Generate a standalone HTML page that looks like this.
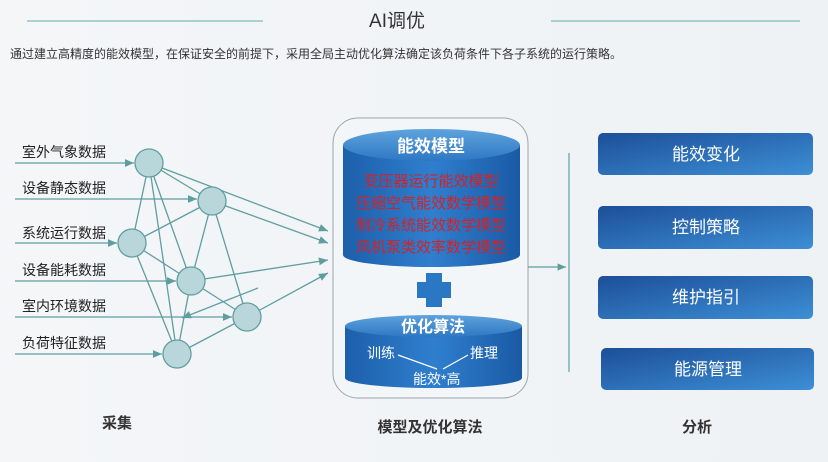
<!DOCTYPE html>
<html><head><meta charset="utf-8"><style>
body{margin:0;width:828px;height:457px;overflow:hidden;background:linear-gradient(90deg,#f4f6f8,#eef2f5);font-family:"Liberation Sans","Noto Sans CJK SC",sans-serif;}
</style></head><body>
<svg width="828" height="457" viewBox="0 0 828 457" xmlns="http://www.w3.org/2000/svg" font-family="Liberation Sans, Noto Sans CJK SC, sans-serif">
<defs>
<marker id="ar" markerWidth="8" markerHeight="8" refX="7" refY="3" orient="auto"><path d="M0,0 L7,3 L0,6z" fill="#5f9ea0"/></marker>
<linearGradient id="cyl" x1="0" x2="1"><stop offset="0" stop-color="#1d5faa"/><stop offset="0.5" stop-color="#2f7fce"/><stop offset="1" stop-color="#1a5aa5"/></linearGradient>
<linearGradient id="top" x1="0" y1="0" x2="0" y2="1"><stop offset="0" stop-color="#5ea3dc"/><stop offset="1" stop-color="#2e78c4"/></linearGradient>
<linearGradient id="box" x1="0" y1="0" x2="1" y2="1"><stop offset="0" stop-color="#1c4f98"/><stop offset="1" stop-color="#3d8fd6"/></linearGradient>
</defs>
<line x1="27" y1="21" x2="263" y2="21" stroke="#7fbcbc" stroke-width="1.2"/>
<line x1="551" y1="21" x2="800" y2="21" stroke="#7fbcbc" stroke-width="1.2"/>
<text x="397" y="27" font-size="19" text-anchor="middle" fill="#333">AI调优</text>
<text x="10" y="58" font-size="12" fill="#333">通过建立高精度的能效模型，在保证安全的前提下，采用全局主动优化算法确定该负荷条件下各子系统的运行策略。</text>
<g font-size="14" fill="#222">
<text x="22" y="157">室外气象数据</text><text x="22" y="193">设备静态数据</text><text x="22" y="238">系统运行数据</text>
<text x="22" y="275">设备能耗数据</text><text x="22" y="311">室内环境数据</text><text x="22" y="348">负荷特征数据</text>
</g>
<g stroke="#5f9ea0" stroke-width="1.3" fill="none">
<line x1="15" y1="163" x2="134" y2="163" marker-end="url(#ar)"/>
<line x1="15" y1="199" x2="197" y2="199" marker-end="url(#ar)"/>
<line x1="15" y1="243" x2="117" y2="243" marker-end="url(#ar)"/>
<line x1="15" y1="281" x2="176" y2="281" marker-end="url(#ar)"/>
<line x1="15" y1="317" x2="232" y2="317" marker-end="url(#ar)"/>
<line x1="15" y1="354" x2="162" y2="354" marker-end="url(#ar)"/>
<line x1="149" y1="163" x2="328" y2="231" marker-end="url(#ar)"/>
<line x1="212" y1="201" x2="328" y2="243" marker-end="url(#ar)"/>
<line x1="191" y1="281" x2="328" y2="260" marker-end="url(#ar)"/>
<line x1="247" y1="317" x2="328" y2="273" marker-end="url(#ar)"/>
<line x1="149" y1="163" x2="132" y2="243"/><line x1="149" y1="163" x2="191" y2="281"/><line x1="149" y1="163" x2="177" y2="354"/>
<line x1="149" y1="163" x2="212" y2="201"/>
<line x1="212" y1="201" x2="132" y2="243"/><line x1="212" y1="201" x2="191" y2="281"/><line x1="212" y1="201" x2="247" y2="317"/>
<line x1="132" y1="243" x2="191" y2="281"/><line x1="132" y1="243" x2="177" y2="354"/>
<line x1="191" y1="281" x2="247" y2="317"/><line x1="191" y1="281" x2="177" y2="354"/><line x1="247" y1="317" x2="177" y2="354"/>
<line x1="258" y1="288" x2="182" y2="318" marker-end="url(#ar)"/>
</g>
<g fill="#b9d7da" stroke="#5f9ea0" stroke-width="1.3">
<circle cx="149" cy="163" r="14"/><circle cx="212" cy="201" r="14"/><circle cx="132" cy="243" r="14"/>
<circle cx="191" cy="281" r="14"/><circle cx="247" cy="317" r="14"/><circle cx="177" cy="354" r="14"/>
</g>
<rect x="333" y="118" width="195" height="280" rx="25" fill="#f3f6f9" stroke="#9aa6ae" stroke-width="1"/>
<path d="M343,145 L343,255 A88,12 0 0 0 520,255 L520,145z" fill="url(#cyl)"/>
<ellipse cx="431.5" cy="145" rx="88.5" ry="16" fill="url(#top)"/>
<text x="431" y="152" font-size="17" font-weight="bold" fill="#fff" text-anchor="middle">能效模型</text>
<g font-size="15" fill="#d2232a" text-anchor="middle">
<text x="431" y="186">变压器运行能效模型</text><text x="431" y="208">压缩空气能效数学模型</text>
<text x="431" y="230">制冷系统能效数学模型</text><text x="431" y="252">风机泵类效率数学模型</text>
</g>
<path d="M426,273h16v9h9v16h-9v9h-16v-9h-9v-16h9z" fill="#2a77c3"/>
<path d="M345,326 L345,378 A88,10 0 0 0 522,378 L522,326z" fill="url(#cyl)"/>
<ellipse cx="433.5" cy="326" rx="88.5" ry="11" fill="url(#top)"/>
<text x="433" y="332" font-size="16" font-weight="bold" fill="#fff" text-anchor="middle">优化算法</text>
<g font-size="14" fill="#fff"><text x="367" y="358">训练</text><text x="470" y="358">推理</text><text x="413" y="384">能效*高</text></g>
<g stroke="#fff" stroke-width="1.2"><line x1="398" y1="355" x2="437" y2="369"/><line x1="468" y1="355" x2="443" y2="369"/></g>
<line x1="528" y1="267" x2="566" y2="267" stroke="#5f9ea0" stroke-width="1.2" marker-end="url(#ar)"/>
<line x1="569" y1="153" x2="569" y2="372" stroke="#5f9ea0" stroke-width="1.2"/>
<g><rect x="598" y="133" width="215" height="42" rx="5" fill="url(#box)"/><rect x="598" y="206" width="215" height="43" rx="5" fill="url(#box)"/>
<rect x="598" y="276" width="215" height="43" rx="5" fill="url(#box)"/><rect x="601" y="348" width="213" height="42" rx="5" fill="url(#box)"/></g>
<g font-size="17" fill="#fff" text-anchor="middle">
<text x="706" y="160">能效变化</text><text x="706" y="233">控制策略</text><text x="706" y="303">维护指引</text><text x="708" y="375">能源管理</text></g>
<g font-size="15" font-weight="bold" fill="#333" text-anchor="middle">
<text x="117" y="428">采集</text><text x="430" y="432">模型及优化算法</text><text x="697" y="432">分析</text></g>
</svg>
</body></html>
